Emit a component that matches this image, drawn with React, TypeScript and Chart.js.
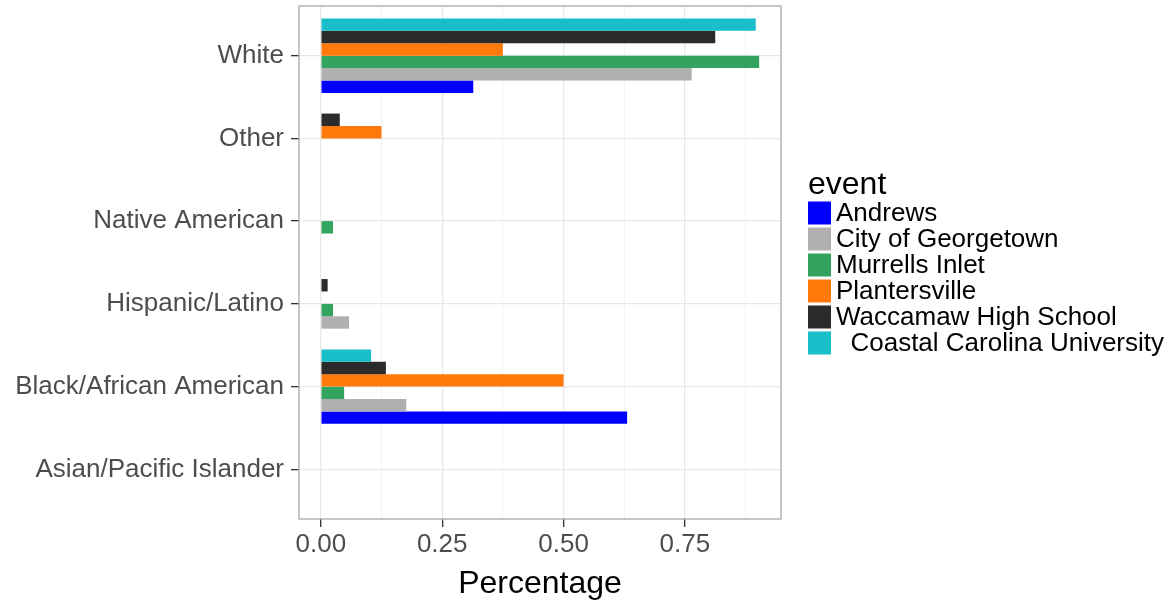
import React, { useEffect, useRef } from 'react';
import { Chart, registerables } from 'chart.js';

Chart.register(...registerables);

// Categories, top to bottom as shown
const categories = [
  'White',
  'Other',
  'Native American',
  'Hispanic/Latino',
  'Black/African American',
  'Asian/Pacific Islander',
];

// Series values (share of each event's respondents), in category order above
const andrews = [0.314, 0, 0, 0, 0.631, 0];
const cityOfGeorgetown = [0.764, 0, 0, 0.058, 0.176, 0];
const murrellsInlet = [0.903, 0, 0.025, 0.025, 0.048, 0];
const plantersville = [0.375, 0.125, 0, 0, 0.5, 0];
const waccamawHighSchool = [0.8125, 0.039, 0, 0.014, 0.134, 0];
const coastalCarolina = [0.896, 0, 0, 0, 0.1035, 0];

const seriesNames = [
  'Andrews',
  'City of Georgetown',
  'Murrells Inlet',
  'Plantersville',
  'Waccamaw High School',
  '  Coastal Carolina University',
];
const seriesValues = [andrews, cityOfGeorgetown, murrellsInlet, plantersville, waccamawHighSchool, coastalCarolina];
const seriesColors = ['#0000ff', '#b0b0b0', '#33a460', '#ff7a0a', '#2b2b2b', '#19bfc8'];

const xMajorTicks = [0, 0.25, 0.5, 0.75];
const xMinorTicks = [0.125, 0.375, 0.625, 0.875];
const xTitle = 'Percentage';
const legendTitle = 'event';

const FONT = '"Liberation Sans", Arial, Helvetica, sans-serif';

const panelBorder = {
  id: 'panelBorder',
  afterDatasetsDraw(chart: any) {
    const { ctx, chartArea } = chart;
    ctx.save();
    ctx.strokeStyle = '#a8a8a8';
    ctx.lineWidth = 1.3;
    ctx.strokeRect(chartArea.left, chartArea.top, chartArea.right - chartArea.left, chartArea.bottom - chartArea.top);
    ctx.restore();
  },
};

const ggLegend = {
  id: 'ggLegend',
  afterDraw(chart: any) {
    const { ctx, chartArea } = chart;
    const x0 = chartArea.right + 27;
    const y0 = 201.5;
    const box = 23;
    const pitch = 26;
    ctx.save();
    ctx.fillStyle = '#000';
    ctx.font = `32px ${FONT}`;
    ctx.textBaseline = 'alphabetic';
    ctx.textAlign = 'left';
    ctx.fillText(legendTitle, x0, y0 - 8);
    ctx.font = `26px ${FONT}`;
    ctx.textBaseline = 'middle';
    seriesNames.forEach((name, i) => {
      const y = y0 + i * pitch;
      ctx.fillStyle = seriesColors[i];
      ctx.fillRect(x0, y, box, box);
      ctx.fillStyle = '#000';
      ctx.fillText(name, x0 + box + 5, y + box / 2 + 1);
    });
    ctx.restore();
  },
};

export default function App() {
  const canvasRef = useRef<HTMLCanvasElement | null>(null);

  useEffect(() => {
    const canvas = canvasRef.current;
    if (!canvas) return;
    const n = categories.length;
    // datasets ordered top-to-bottom within each group
    const order = [5, 4, 3, 2, 1, 0];
    const datasets = order.map((s) => ({
      label: seriesNames[s],
      data: seriesValues[s].map((v, i) => ({ x: v, y: n - i })),
      backgroundColor: seriesColors[s],
      borderWidth: 0,
      barPercentage: 1,
      categoryPercentage: 0.9,
    }));

    const chart = new Chart(canvas, {
      type: 'bar',
      data: { datasets },
      options: {
        indexAxis: 'y',
        animation: false,
        responsive: false,
        events: [],
        layout: { padding: { top: 6, right: 393, bottom: 0, left: 0 } },
        plugins: {
          legend: { display: false },
          tooltip: { enabled: false },
        },
        scales: {
          x: {
            type: 'linear',
            position: 'bottom',
            min: -0.045,
            max: 0.948,
            offset: false,
            afterBuildTicks: (scale: any) => {
              scale.ticks = [...xMajorTicks, ...xMinorTicks].sort((a, b) => a - b).map((v) => ({ value: v }));
            },
            afterFit: (scale: any) => {
              scale.height = 86;
              scale.paddingLeft = 0;
              scale.paddingRight = 0;
            },
            ticks: {
              autoSkip: false,
              maxRotation: 0,
              padding: 2,
              color: '#4d4d4d',
              font: { family: FONT, size: 26 },
              callback: (value: any) => (xMajorTicks.includes(Number(value)) ? Number(value).toFixed(2) : ''),
            },
            grid: {
              offset: false,
              color: (c: any) => (c.tick && xMinorTicks.includes(c.tick.value) ? '#f3f3f3' : '#e8e8e8'),
              lineWidth: (c: any) => (c.tick && xMinorTicks.includes(c.tick.value) ? 1 : 1.3),
              tickColor: (c: any) => (c.tick && xMinorTicks.includes(c.tick.value) ? 'rgba(0,0,0,0)' : '#333333'),
              tickLength: 8,
              tickWidth: 1.3,
              drawTicks: true,
            },
            border: { display: false },
            title: {
              display: true,
              text: xTitle,
              color: '#000',
              font: { family: FONT, size: 32 },
              padding: { top: 0, bottom: 2 },
            },
          },
          y: {
            type: 'linear',
            min: 0.4,
            max: n + 0.6,
            offset: false,
            afterBuildTicks: (scale: any) => {
              scale.ticks = categories.map((_, i) => ({ value: i + 1 }));
            },
            afterFit: (scale: any) => {
              scale.width = 299;
              scale.paddingTop = 0;
              scale.paddingBottom = 0;
            },
            ticks: {
              autoSkip: false,
              padding: 7,
              color: '#4d4d4d',
              font: { family: FONT, size: 26 },
              callback: (value: any) => categories[n - Number(value)],
            },
            grid: {
              offset: false,
              color: '#e8e8e8',
              lineWidth: 1.3,
              tickColor: '#333333',
              tickLength: 8,
              tickWidth: 1.3,
            },
            border: { display: false },
          },
        },
      },
      plugins: [panelBorder, ggLegend],
    });

    return () => chart.destroy();
  }, []);

  return (
    <div style={{ position: 'fixed', left: 0, top: 0, width: 1174, height: 605, background: '#fff' }}>
      <canvas ref={canvasRef} width={1174} height={605} style={{ display: 'block' }} />
    </div>
  );
}
